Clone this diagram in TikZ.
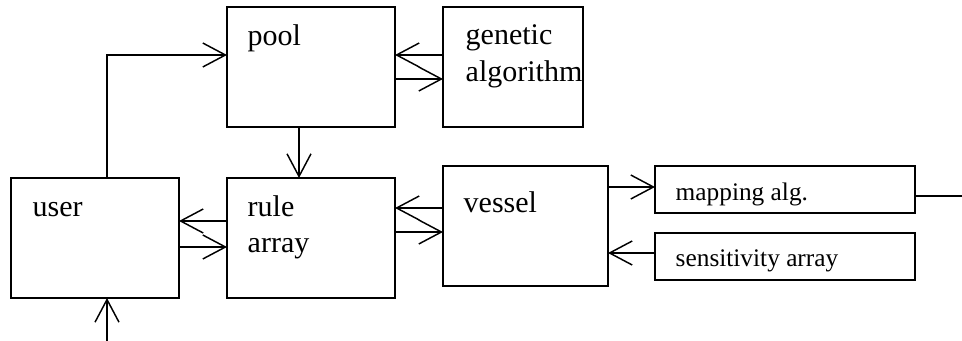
\documentclass[tikz,border=0pt]{standalone}
\usepackage{fontspec}
\setmainfont{Liberation Serif}
\usetikzlibrary{arrows.meta}
\usetikzlibrary{calc}

\begin{document}
\begin{tikzpicture}[x=0.75pt,y=-0.75pt,line width=1.1pt,
    box/.style={draw,inner sep=0pt,outer sep=0pt},
    bigbox/.style={box,minimum width=126pt,minimum height=90pt},
    strip/.style={box,minimum width=195pt,minimum height=35.25pt},
    bigtxt/.style={anchor=base west,inner sep=0pt,font=\fontsize{22.5}{27}\selectfont},
    smalltxt/.style={anchor=base west,inner sep=0pt,font=\fontsize{19}{23}\selectfont},
    flow/.style={-{Straight Barb[length=17pt,width=18pt]}}]

  \useasboundingbox (0,0) rectangle (962,341);

  % Draw boxes
  \node[bigbox] (pool) at (311,67) {};
  \node[bigbox,minimum width=105pt] (ga) at (513,67) {};
  \node[bigbox] (user) at (95,238) {};
  \node[bigbox] (rules) at (311,238) {};
  \node[bigbox,minimum width=123.75pt] (vessel) at (525.5,226) {};
  \node[strip] (mapalg) at (785,189.5) {};
  \node[strip] (sensarr) at (785,256.5) {};

  % Draw box texts
  \node[bigtxt] (pooltxt) at (247,46) {pool};
  \node[bigtxt] (gatxt) at (465,45) {genetic};
  \node[bigtxt] (gatxtb) at (465,82) {algorithm};
  \node[bigtxt] (usertxt) at (32,217) {user};
  \node[bigtxt] (rulestxt) at (247,217) {rule};
  \node[bigtxt] (rulestxtb) at (247,253) {array};
  \node[bigtxt] (vesseltxt) at (463,213) {vessel};
  \node[smalltxt] (mapalgtxt) at (675,201) {mapping alg.};
  \node[smalltxt] (sensarrtxt) at (675,267) {sensitivity array};

  % Draw user to pool
  \draw[flow] ($(user.north)+(12,0)$) |- ($(pool.west)+(0,-12)$);

  % Draw pool and genetic algorithm
  \draw[flow] ($(ga.west)+(0,-12)$) -- ($(pool.east)+(0,-12)$);
  \draw[flow] ($(pool.east)+(0,12)$) -- ($(ga.west)+(0,12)$);

  % Draw pool to rule array
  \draw[flow] ($(pool.south)+(-12,0)$) -- ($(rules.north)+(-12,0)$);

  % Draw rule array and user
  \draw[flow] ($(rules.west)+(0,-17)$) -- ($(user.east)+(0,-17)$);
  \draw[flow] ($(user.east)+(0,9)$) -- ($(rules.west)+(0,9)$);

  % Draw rule array and vessel
  \draw[flow] ($(vessel.west)+(0,-18)$) -- ($(rules.east)+(0,-30)$);
  \draw[flow] ($(rules.east)+(0,-6)$) -- ($(vessel.west)+(0,6)$);

  % Draw vessel and side boxes
  \draw[flow] ($(vessel.east)+(0,-39)$) -- ($(mapalg.west)+(0,-2.5)$);
  \draw[flow] ($(sensarr.west)+(0,-3.5)$) -- ($(vessel.east)+(0,27)$);

  % Draw loose ends
  \coordinate (out) at (962,196);
  \draw ($(mapalg.east)+(0,6.5)$) -- (out);
  \coordinate (in) at (107,341);
  \draw[flow] (in) -- ($(user.south)+(12,0)$);
\end{tikzpicture}
\end{document}
